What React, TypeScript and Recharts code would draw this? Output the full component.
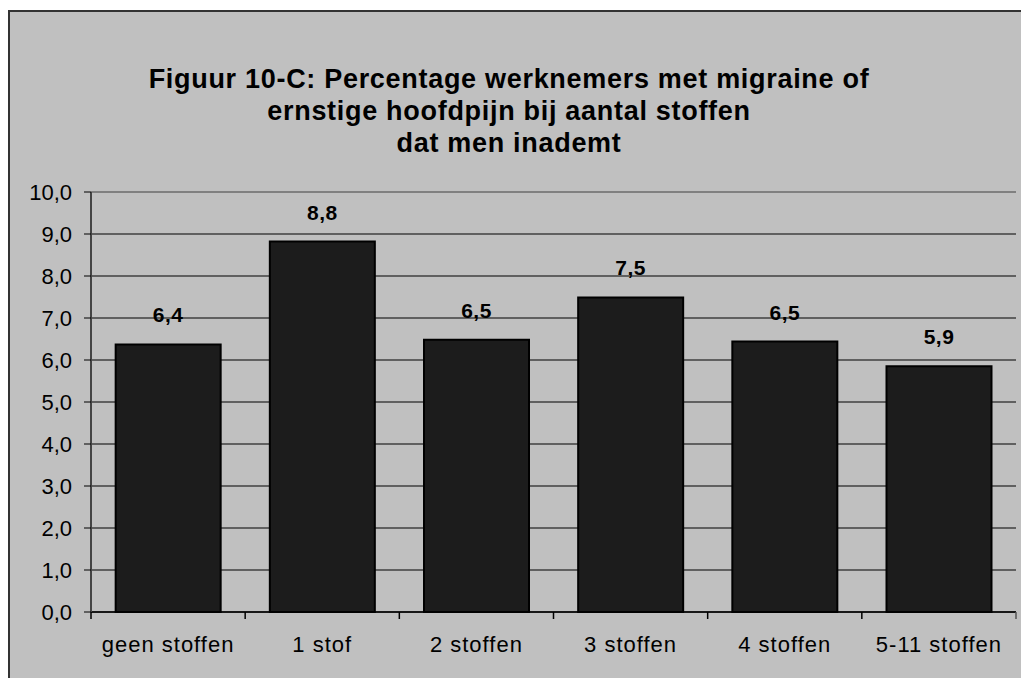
import React from 'react';
import { BarChart, Bar, XAxis, YAxis, CartesianGrid, LabelList, ReferenceLine } from 'recharts';

const categories = ['geen stoffen', '1 stof', '2 stoffen', '3 stoffen', '4 stoffen', '5-11 stoffen'];
const values = [6.37, 8.82, 6.48, 7.49, 6.44, 5.85];
const valueLabels = ['6,4', '8,8', '6,5', '7,5', '6,5', '5,9'];
const yTicks = [0, 1, 2, 3, 4, 5, 6, 7, 8, 9, 10];
const titleLines = [
  'Figuur 10-C: Percentage werknemers met migraine of',
  'ernstige hoofdpijn bij aantal stoffen',
  'dat men inademt',
];

const data = categories.map((c, i) => ({ name: c, value: values[i], label: valueLabels[i] }));

const FONT = '"Liberation Sans", Arial, sans-serif';

const XTick = (props: any) => {
  const { x, y, payload, index } = props;
  const half = payload && payload.offset ? payload.offset : 0;
  const n = categories.length;
  return (
    <g>
      <line x1={x - half} x2={x - half} y1={y} y2={y + 7} stroke="#000" strokeWidth={1.5} />
      {index === n - 1 && (
        <line x1={x + half} x2={x + half} y1={y} y2={y + 7} stroke="#555" strokeWidth={1.5} />
      )}
      <text
        x={x}
        y={y + 40}
        textAnchor="middle"
        fontFamily={FONT}
        fontSize={22}
        letterSpacing={1}
        fill="#000"
      >
        {payload.value}
      </text>
    </g>
  );
};

export default function App() {
  return (
    <div
      style={{
        position: 'fixed',
        left: 8,
        top: 10,
        width: 1011,
        height: 666,
        background: '#c0c0c0',
        borderLeft: '2px solid #333',
        borderTop: '2px solid #333',
        overflow: 'hidden',
      }}
    >
      <div
        style={{
          position: 'absolute',
          left: 0,
          top: 51,
          width: 998,
          textAlign: 'center',
          fontFamily: FONT,
          fontWeight: 'bold',
          fontSize: 27,
          letterSpacing: 0.7,
          lineHeight: '32px',
          color: '#000',
        }}
      >
        {titleLines.map((t, i) => (
          <div key={i}>{t}</div>
        ))}
      </div>
      <BarChart
        width={1011}
        height={666}
        data={data}
        margin={{ top: 180, right: 5, bottom: 0, left: 21 }}
        barCategoryGap="16%"
      >
        <CartesianGrid vertical={false} stroke="#000" strokeWidth={1} />
        <XAxis
          dataKey="name"
          height={66}
          tickSize={0}
          tickMargin={0}
          interval={0}
          axisLine={{ stroke: '#000', strokeWidth: 1.5 }}
          tickLine={false}
          tick={<XTick />}
        />
        <YAxis
          width={60}
          domain={[0, 10]}
          ticks={yTicks}
          interval={0}
          tickSize={7}
          tickMargin={12}
          axisLine={{ stroke: '#444', strokeWidth: 2 }}
          tickLine={{ stroke: '#000' }}
          tick={{ fontFamily: FONT, fontSize: 22, fill: '#000' }}
          tickFormatter={(v: number) => v.toFixed(1).replace('.', ',')}
        />
        <YAxis
          yAxisId="r"
          orientation="right"
          width={0}
          domain={[0, 10]}
          tick={false}
          tickLine={false}
          axisLine={{ stroke: '#808080', strokeWidth: 2 }}
        />
        <ReferenceLine y={10} stroke="#808080" strokeWidth={2} />
        <Bar dataKey="value" fill="#1c1c1c" stroke="#000" strokeWidth={2} isAnimationActive={false}>
          <LabelList
            dataKey="label"
            position="top"
            offset={22}
            style={{ fontFamily: FONT, fontSize: 21, fontWeight: 'bold', fill: '#000', letterSpacing: 0.5 }}
          />
        </Bar>
      </BarChart>
    </div>
  );
}
